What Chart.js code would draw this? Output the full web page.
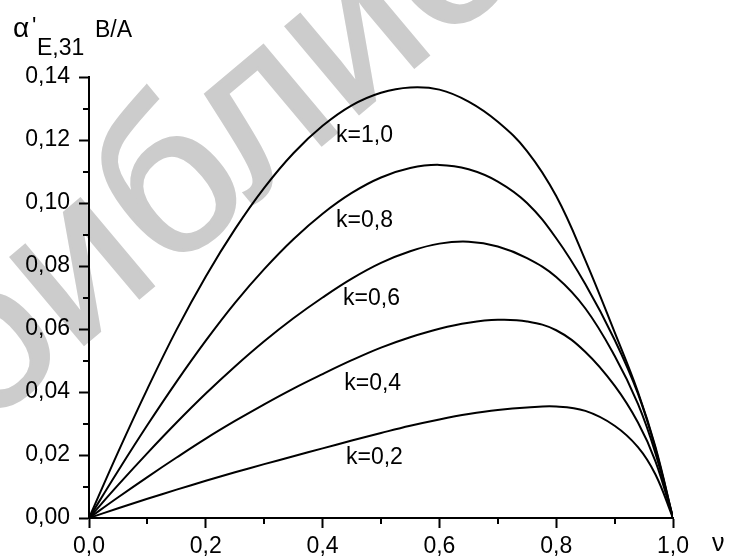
<!DOCTYPE html>
<html>
<head>
<meta charset="utf-8">
<script src="https://cdn.jsdelivr.net/npm/chart.js@4.4.1/dist/chart.umd.min.js"></script>
<style>
  html, body { margin: 0; padding: 0; background: #fff; }
  canvas { display: block; }
</style>
</head>
<body>
<canvas id="myChart" width="731" height="559"></canvas>
<script>
// volume fraction nu
const nu = [0, 0.05, 0.1, 0.15, 0.2, 0.25, 0.3, 0.35, 0.4, 0.45, 0.5, 0.55, 0.6, 0.65, 0.7, 0.75, 0.8, 0.85, 0.9, 0.94, 0.97, 1.0];

// alpha'E,31 (B/A) for each k
const k10 = [0, 0.0210, 0.0410, 0.0598, 0.0767, 0.0917, 0.1048, 0.1158, 0.1245, 0.1310, 0.1350, 0.1367, 0.1360, 0.1322, 0.1258, 0.1165, 0.1022, 0.0818, 0.0590, 0.0400, 0.0225, 0];
const k08 = [0, 0.0150, 0.0295, 0.0433, 0.0563, 0.0683, 0.0790, 0.0885, 0.0966, 0.1032, 0.1081, 0.1111, 0.1121, 0.1107, 0.1068, 0.1000, 0.0888, 0.0742, 0.0566, 0.0395, 0.0220, 0];
const k06 = [0, 0.0105, 0.0206, 0.0303, 0.0395, 0.0481, 0.0561, 0.0634, 0.0700, 0.0760, 0.0810, 0.0847, 0.0871, 0.0877, 0.0862, 0.0825, 0.0765, 0.0665, 0.0515, 0.0362, 0.0205, 0];
const k04 = [0, 0.0066, 0.0130, 0.0192, 0.0252, 0.0308, 0.0361, 0.0411, 0.0457, 0.0501, 0.0541, 0.0574, 0.0601, 0.0620, 0.0629, 0.0624, 0.0596, 0.0527, 0.0420, 0.0303, 0.0180, 0];
const k02 = [0, 0.0031, 0.0061, 0.0090, 0.0118, 0.0145, 0.0171, 0.0196, 0.0221, 0.0246, 0.0270, 0.0293, 0.0313, 0.0330, 0.0343, 0.0351, 0.0354, 0.0340, 0.0293, 0.0225, 0.0138, 0];

// curve captions, anchored in data units (nu, alpha)
const curveNames = ['k=1,0', 'k=0,8', 'k=0,6', 'k=0,4', 'k=0,2'];
const nameNu = [0.423, 0.423, 0.435, 0.437, 0.440];
const nameAlpha = [0.1194, 0.0924, 0.0676, 0.0406, 0.0173];

const xTicks = [0, 0.2, 0.4, 0.6, 0.8, 1.0];
const yTicks = [0, 0.02, 0.04, 0.06, 0.08, 0.10, 0.12, 0.14];

const FONT = "'Liberation Sans', Arial, sans-serif";

function pts(ys) {
  return nu.map((x, i) => ({ x: x, y: ys[i] }));
}

function curve(ys) {
  return {
    data: pts(ys),
    borderColor: '#000',
    borderWidth: 2,
    pointRadius: 0,
    fill: false,
    tension: 0.4
  };
}

const comma = (v, d) => v.toFixed(d).replace('.', ',');

// faint background lettering, running up to the right
const watermark = {
  id: 'watermark',
  beforeDraw(chart) {
    const ctx = chart.ctx;
    const em = 215;
    const ang = 40 * Math.PI / 180;
    ctx.save();
    ctx.font = em + 'px ' + FONT;
    // bowl of the second "б" sits near (175, 195)
    const s = ctx.measureText('би').width + 0.28 * em;
    const h = 0.26 * em;
    const ox = 175 - s * Math.cos(ang) + h * Math.sin(ang);
    const oy = 195 + s * Math.sin(ang) + h * Math.cos(ang);
    ctx.translate(ox, oy);
    ctx.rotate(-ang);
    ctx.fillStyle = '#cccccc';
    ctx.strokeStyle = '#cccccc';
    ctx.lineWidth = 3;
    ctx.textBaseline = 'alphabetic';
    ctx.fillText('библиотека', 0, 0);
    ctx.strokeText('библиотека', 0, 0);
    ctx.restore();
  }
};

// minor ticks, axis names and curve captions
const extras = {
  id: 'extras',
  afterDraw(chart) {
    const ctx = chart.ctx;
    const xs = chart.scales.x, ys = chart.scales.y;
    const a = chart.chartArea;
    ctx.save();
    ctx.strokeStyle = '#000';
    ctx.lineWidth = 2;
    ctx.beginPath();
    for (let i = 0; i < xTicks.length - 1; i++) {
      const px = Math.round(xs.getPixelForValue((xTicks[i] + xTicks[i + 1]) / 2));
      ctx.moveTo(px, a.bottom);
      ctx.lineTo(px, a.bottom + 6);
    }
    for (let i = 0; i < yTicks.length - 1; i++) {
      const py = Math.round(ys.getPixelForValue((yTicks[i] + yTicks[i + 1]) / 2));
      ctx.moveTo(a.left, py);
      ctx.lineTo(a.left - 6, py);
    }
    ctx.stroke();

    ctx.fillStyle = '#000';
    ctx.textBaseline = 'alphabetic';
    ctx.textAlign = 'left';

    ctx.font = '23px ' + FONT;
    curveNames.forEach((t, i) => {
      ctx.fillText(t, xs.getPixelForValue(nameNu[i]), ys.getPixelForValue(nameAlpha[i]));
    });

    // y axis name
    ctx.font = '28px ' + FONT;
    ctx.fillText('α', 13, 37);
    ctx.font = '23px ' + FONT;
    ctx.fillText("'", 32, 34);
    ctx.fillText('E,31', 37, 55);
    ctx.fillText('B/A', 95, 37);

    // x axis name
    ctx.font = '25px ' + FONT;
    ctx.fillText('ν', 712, 551);
    ctx.restore();
  }
};

const config = {
  type: 'line',
  data: {
    datasets: [curve(k10), curve(k08), curve(k06), curve(k04), curve(k02)]
  },
  options: {
    responsive: false,
    animation: false,
    layout: { padding: { top: 77, right: 58, left: 0, bottom: 0 } },
    plugins: { legend: { display: false }, tooltip: { enabled: false } },
    scales: {
      x: {
        type: 'linear',
        min: 0,
        max: 1,
        afterBuildTicks(scale) { scale.ticks = xTicks.map(v => ({ value: v })); },
        afterFit(scale) { scale.height = 41; },
        border: { color: '#000', width: 2 },
        grid: { drawOnChartArea: false, tickLength: 10, tickColor: '#000', tickWidth: 2 },
        ticks: {
          color: '#000',
          padding: 5,
          maxRotation: 0,
          font: { family: FONT, size: 23 },
          callback: v => comma(v, 1)
        }
      },
      y: {
        min: 0,
        max: 0.14,
        afterBuildTicks(scale) { scale.ticks = yTicks.map(v => ({ value: v })); },
        afterFit(scale) { scale.width = 89; },
        border: { color: '#000', width: 2 },
        grid: { drawOnChartArea: false, tickLength: 10, tickColor: '#000', tickWidth: 2 },
        ticks: {
          color: '#000',
          padding: 9,
          font: { family: FONT, size: 23 },
          callback: v => comma(v, 2)
        }
      }
    }
  },
  plugins: [watermark, extras]
};

const myChart = new Chart(document.getElementById('myChart'), config);
</script>
</body>
</html>
